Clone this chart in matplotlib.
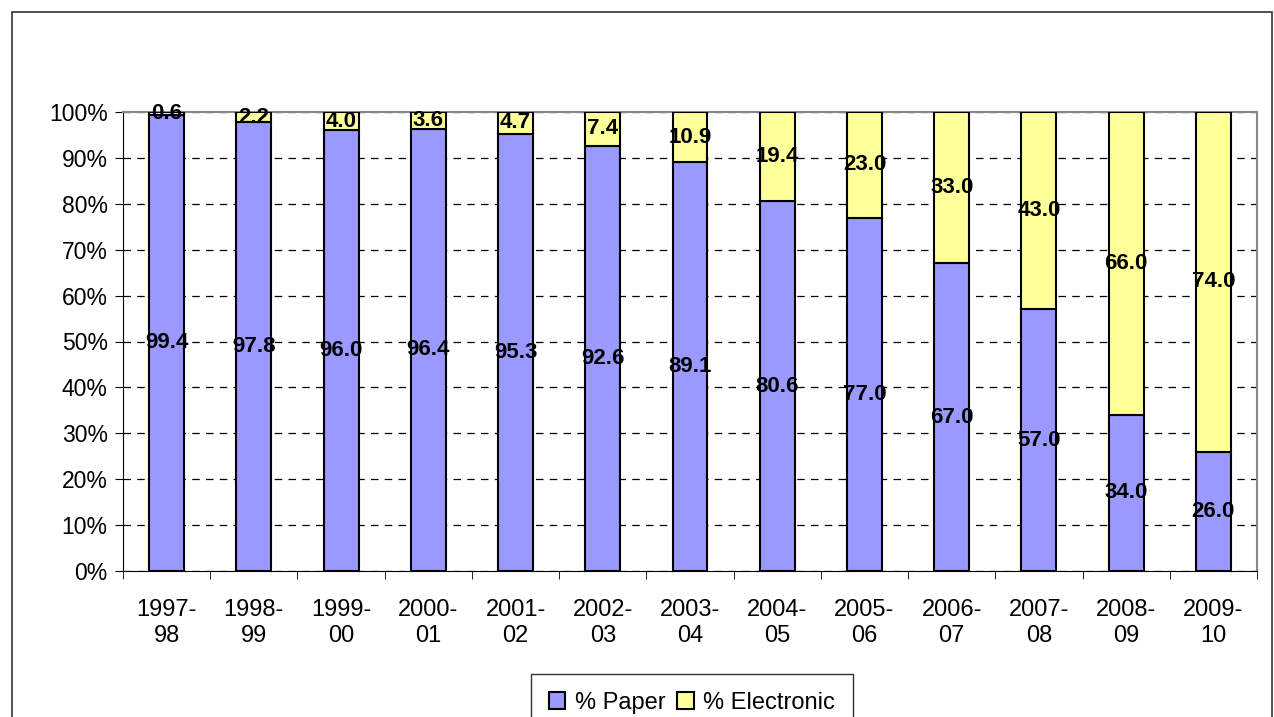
import numpy as np
from matplotlib import pyplot as plt
from matplotlib.patches import Rectangle
from matplotlib.ticker import FuncFormatter

years = ["1997-\n98", "1998-\n99", "1999-\n00", "2000-\n01", "2001-\n02", "2002-\n03",
         "2003-\n04", "2004-\n05", "2005-\n06", "2006-\n07", "2007-\n08", "2008-\n09",
         "2009-\n10"]
paper = [99.4, 97.8, 96.0, 96.4, 95.3, 92.6, 89.1, 80.6, 77.0, 67.0, 57.0, 34.0, 26.0]
electronic = [0.6, 2.2, 4.0, 3.6, 4.7, 7.4, 10.9, 19.4, 23.0, 33.0, 43.0, 66.0, 74.0]

plt.rcParams["font.family"] = ["Liberation Sans", "DejaVu Sans"]

fig = plt.figure(figsize=(12.74, 7.17), dpi=100)
fig.patches.append(Rectangle((12 / 1274, -0.1), 1260 / 1274, 1.1 - 12 / 717,
                             transform=fig.transFigure, fill=False,
                             edgecolor="#333333", linewidth=1.2))

ax = fig.add_axes([123 / 1274, 1 - 571 / 717, 1134 / 1274, 459 / 717])

x = np.arange(len(years))
b1 = ax.bar(x, paper, width=0.4, color="#9999FF", edgecolor="black", linewidth=1.5,
            label="% Paper", zorder=3)
b2 = ax.bar(x, electronic, width=0.4, bottom=paper, color="#FFFF99", edgecolor="black",
            linewidth=1.5, label="% Electronic", zorder=3)

for i in range(len(years)):
    ax.text(x[i], paper[i] / 2, f"{paper[i]:.1f}", ha="center", va="center",
            fontsize=16, fontweight="bold", zorder=5)
    ax.text(x[i], paper[i] + electronic[i] / 2, f"{electronic[i]:.1f}", ha="center",
            va="center", fontsize=16, fontweight="bold", zorder=5)

ax.set_xlim(-0.5, len(years) - 0.5)
ax.set_ylim(0, 100)
ax.set_yticks(np.arange(0, 101, 10))
ax.yaxis.set_major_formatter(FuncFormatter(lambda v, p: f"{int(v)}%"))
ax.set_xticks(x)
ax.set_xticklabels(years, fontsize=17, linespacing=1.25)
ax.set_xticks(np.arange(-0.5, len(years), 1), minor=True)
ax.tick_params(axis="x", which="major", length=0, pad=20)
ax.tick_params(axis="x", which="minor", length=6, direction="out", color="black")
ax.tick_params(axis="y", length=6, direction="out", labelsize=16.5, pad=5)

ax.yaxis.grid(True, color="black", linestyle=(0, (6, 5)), linewidth=0.9, zorder=0)
ax.spines["left"].set_color("black")
ax.spines["bottom"].set_color("black")
ax.spines["top"].set_color("#888888")
ax.spines["right"].set_color("#888888")
ax.spines["top"].set_linewidth(1.5)
ax.spines["right"].set_linewidth(1.5)

leg = fig.legend(handles=[b1, b2], loc="upper center", bbox_to_anchor=(692 / 1274, 1 - 674 / 717),
                 ncol=2, fontsize=17, frameon=True, fancybox=False, edgecolor="black",
                 handlelength=0.7, handleheight=0.7, handletextpad=0.4, columnspacing=0.5,
                 borderpad=0.75, borderaxespad=0)
leg.get_frame().set_linewidth(1.0)

fig.savefig("out.png", dpi=100)
